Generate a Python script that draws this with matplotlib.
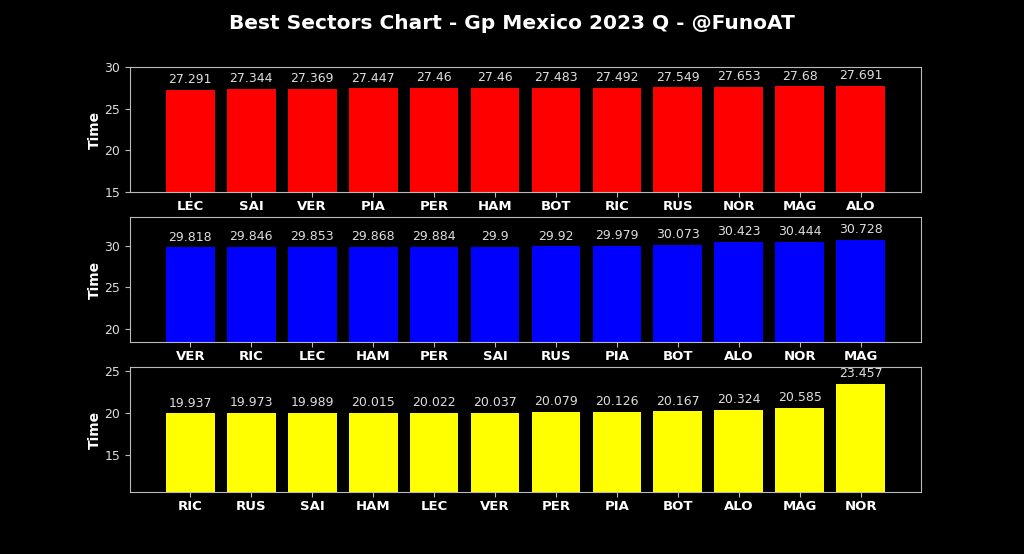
import matplotlib.pyplot as plt

# Sector 1
s1_drivers = ['LEC', 'SAI', 'VER', 'PIA', 'PER', 'HAM', 'BOT', 'RIC', 'RUS', 'NOR', 'MAG', 'ALO']
s1_times = [27.291, 27.344, 27.369, 27.447, 27.46, 27.46, 27.483, 27.492, 27.549, 27.653, 27.68, 27.691]

# Sector 2
s2_drivers = ['VER', 'RIC', 'LEC', 'HAM', 'PER', 'SAI', 'RUS', 'PIA', 'BOT', 'ALO', 'NOR', 'MAG']
s2_times = [29.818, 29.846, 29.853, 29.868, 29.884, 29.9, 29.92, 29.979, 30.073, 30.423, 30.444, 30.728]

# Sector 3
s3_drivers = ['RIC', 'RUS', 'SAI', 'HAM', 'LEC', 'VER', 'PER', 'PIA', 'BOT', 'ALO', 'MAG', 'NOR']
s3_times = [19.937, 19.973, 19.989, 20.015, 20.022, 20.037, 20.079, 20.126, 20.167, 20.324, 20.585, 23.457]

sectors = [
    (s1_drivers, s1_times, 'red', (15, 30)),
    (s2_drivers, s2_times, 'blue', (18.45, 33.45)),
    (s3_drivers, s3_times, 'yellow', (10.5, 25.5)),
]

fig = plt.figure(figsize=(10.24, 5.54), dpi=100, facecolor='black')
fig.suptitle('Best Sectors Chart - Gp Mexico 2023 Q - @FunoAT', color='white',
             fontsize=14.5, fontweight='bold', y=0.975)

# posiciones de los ejes (en pixeles desde arriba)
tops = [67, 217, 367]
height = 125
for (drivers, times, color, ylim), top in zip(sectors, tops):
    ax = fig.add_axes([130 / 1024, 1 - (top + height) / 554, 791 / 1024, height / 554])
    ax.set_facecolor('black')
    bars = ax.bar(drivers, times, color=color, width=0.8)
    for b, t in zip(bars, times):
        ax.text(b.get_x() + b.get_width() / 2, t + 0.45, f'{t:g}', ha='center', va='bottom',
                color='#dddddd', fontsize=9)
    ax.set_ylim(*ylim)
    ax.set_ylabel('Time', color='white', fontsize=10, fontweight='bold', labelpad=2)
    for s in ax.spines.values():
        s.set_color('#bbbbbb')
    ax.tick_params(axis='y', colors='#bbbbbb', labelcolor='#dddddd', labelsize=9)
    ax.tick_params(axis='x', colors='#bbbbbb', labelcolor='white', labelsize=9.5, pad=2)
    for lbl in ax.get_xticklabels():
        lbl.set_fontweight('bold')

fig.savefig('out.png', dpi=100, facecolor='black')
